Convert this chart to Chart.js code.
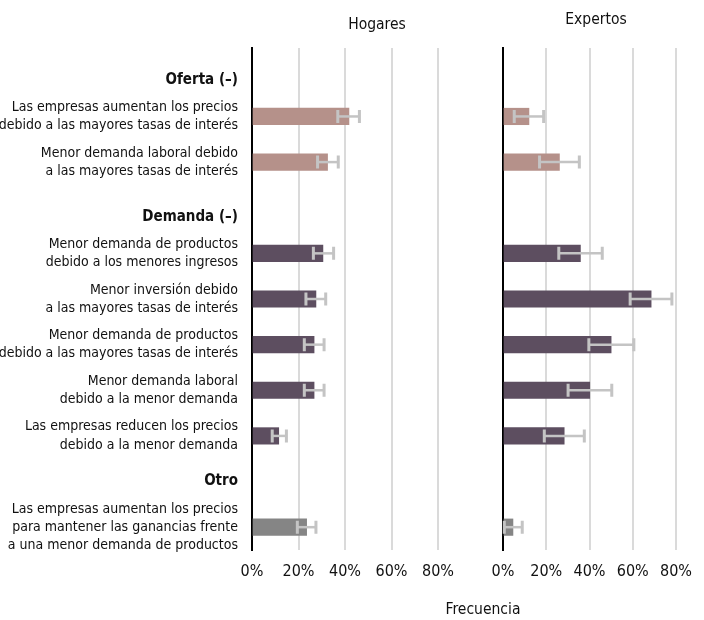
<!DOCTYPE html>
<html>
<head>
<meta charset="utf-8">
<script src="https://cdn.jsdelivr.net/npm/chart.js@4.4.1/dist/chart.umd.min.js"></script>
<style>
  body { margin: 0; background: #fff; }
  #wrap { position: relative; width: 704px; height: 620px; font-family: 'DejaVu Sans', sans-serif; font-stretch: condensed; }
  canvas { position: absolute; left: 0; top: 0; }
  .txt { position: absolute; font-size: 15.5px; color: #111; transform: translate(-50%, -50%); white-space: nowrap; }
</style>
</head>
<body>
<div id="wrap">
  <canvas id="hogares" width="704" height="620"></canvas>
  <canvas id="expertos" width="704" height="620"></canvas>
  <div class="txt" style="left:377px; top:24px;">Hogares</div>
  <div class="txt" style="left:596px; top:19px;">Expertos</div>
  <div class="txt" style="left:483px; top:609px;">Frecuencia</div>
</div>
<script>
/*
* datos
*/
const FONT = "'DejaVu Sans', sans-serif";

// filas vacías = títulos de grupo
const categorias = [
  ['', 'Oferta (–)'],
  ['Las empresas aumentan los precios', 'debido a las mayores tasas de interés'],
  ['Menor demanda laboral debido', 'a las mayores tasas de interés'],
  ['', 'Demanda (–)'],
  ['Menor demanda de productos', 'debido a los menores ingresos'],
  ['Menor inversión debido', 'a las mayores tasas de interés'],
  ['Menor demanda de productos', 'debido a las mayores tasas de interés'],
  ['Menor demanda laboral', 'debido a la menor demanda'],
  ['Las empresas reducen los precios', 'debido a la menor demanda'],
  'Otro',
  ['Las empresas aumentan los precios', 'para mantener las ganancias frente', 'a una menor demanda de productos']
];
const filasTitulo = [0, 3, 9];
const grupos = ['', 'oferta', 'oferta', '', 'demanda', 'demanda', 'demanda', 'demanda', 'demanda', '', 'otro'];

const hogares     = [null, 41.7, 32.5, null, 30.5, 27.5, 26.7, 26.7, 11.5, null, 23.5];
const hogaresMin  = [null, 36.9, 28.2, null, 26.4, 23.2, 22.5, 22.5,  8.7, null, 19.5];
const hogaresMax  = [null, 46.2, 37.1, null, 35.1, 31.7, 31.0, 31.0, 14.8, null, 27.5];

const expertos    = [null, 12.0, 26.1, null, 35.8, 68.5, 50.0, 40.1, 28.3, null,  4.6];
const expertosMin = [null,  5.2, 16.9, null, 25.8, 58.8, 39.7, 30.1, 19.1, null,  0.6];
const expertosMax = [null, 18.8, 35.3, null, 45.9, 78.1, 60.5, 50.3, 37.6, null,  8.9];

const ticksX = [0, 20, 40, 60, 80];

const colores = { oferta: '#b5918a', demanda: '#5d4e60', otro: '#858585', '': 'rgba(0,0,0,0)' };

// barras de error dibujadas encima de las barras
const errorBars = {
  id: 'errorBars',
  afterDatasetsDraw(chart, args, opts) {
    const ctx = chart.ctx;
    const x = chart.scales.x;
    const meta = chart.getDatasetMeta(0);
    ctx.save();
    ctx.strokeStyle = '#c4c4c4';
    meta.data.forEach((bar, i) => {
      if (opts.min[i] == null) return;
      const x1 = x.getPixelForValue(opts.min[i]);
      const x2 = x.getPixelForValue(opts.max[i]);
      const y = bar.y;
      ctx.lineWidth = 2.5;
      ctx.beginPath();
      ctx.moveTo(x1, y); ctx.lineTo(x2, y);
      ctx.stroke();
      ctx.lineWidth = 3;
      ctx.beginPath();
      ctx.moveTo(x1, y - 6.5); ctx.lineTo(x1, y + 6.5);
      ctx.moveTo(x2, y - 6.5); ctx.lineTo(x2, y + 6.5);
      ctx.stroke();
    });
    ctx.restore();
  }
};

function crearGrafico(id, valores, vMin, vMax, conEtiquetas, padding) {
  return new Chart(document.getElementById(id), {
    type: 'bar',
    data: {
      labels: categorias,
      datasets: [{
        data: valores,
        backgroundColor: grupos.map(g => colores[g]),
        barThickness: 16.5
      }]
    },
    options: {
      indexAxis: 'y',
      responsive: false,
      animation: false,
      devicePixelRatio: 1,
      layout: { padding: padding },
      plugins: {
        legend: { display: false },
        tooltip: { enabled: false },
        errorBars: { min: vMin, max: vMax }
      },
      scales: {
        x: {
          min: 0,
          max: 80,
          afterBuildTicks: s => { s.ticks = ticksX.map(v => ({ value: v })); },
          afterFit: s => { s.height = 32; },
          grid: {
            color: c => c.index === 0 ? 'rgba(0,0,0,0)' : '#dadada',
            lineWidth: 2,
            drawTicks: false
          },
          border: { display: false },
          ticks: {
            padding: 12,
            maxRotation: 0,
            color: '#111',
            font: { family: FONT, size: 16, weight: 'condensed' },
            callback: v => v + '%'
          }
        },
        y: {
          grid: { display: false, drawTicks: false },
          border: { color: '#000', width: 2 },
          afterFit: s => {
            s.width = conEtiquetas ? 252 : 0;
            s.paddingTop = 0;
            s.paddingBottom = 0;
          },
          ticks: {
            display: conEtiquetas,
            autoSkip: false,
            padding: 14,
            color: '#111',
            font: c => {
              const titulo = filasTitulo.includes(c.index);
              return {
                family: FONT,
                size: titulo ? 15 : 14,
                weight: titulo ? 'bold condensed' : 'condensed',
                lineHeight: titulo ? 1.22 : 1.3
              };
            }
          }
        }
      }
    },
    plugins: [errorBars]
  });
}

crearGrafico('hogares', hogares, hogaresMin, hogaresMax, true, { top: 48, bottom: 38, left: 0, right: 266 });
crearGrafico('expertos', expertos, expertosMin, expertosMax, false, { top: 48, bottom: 38, left: 503, right: 15 });
</script>
</body>
</html>
